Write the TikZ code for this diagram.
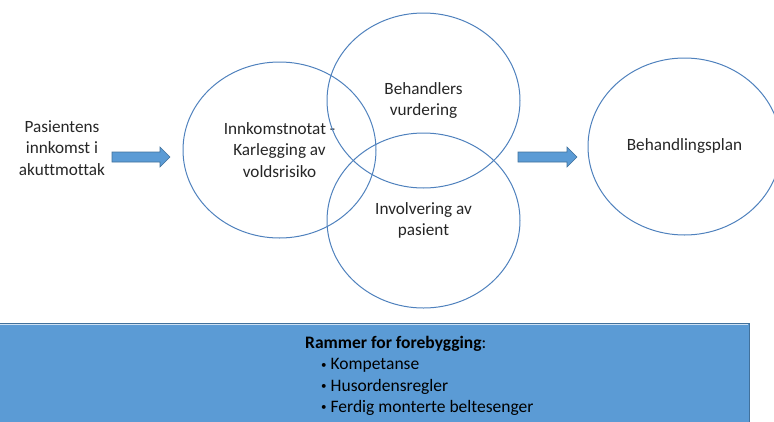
\documentclass[tikz,border=0pt]{standalone}
\usepackage{fontspec}
\setmainfont[Ligatures={NoCommon}]{Carlito}
\usetikzlibrary{shapes.geometric}
\definecolor{ringc}{HTML}{4F81BD}
\definecolor{fillb}{HTML}{5B9BD5}
\definecolor{edgeb}{HTML}{41719C}
\definecolor{txt}{HTML}{262626}
\tikzset{
  ring/.style={draw=ringc, line width=1pt, ellipse, inner sep=0pt, align=center, text=txt,
    font=\fontsize{17.2}{21.5}\selectfont},
  lbl/.style={align=center, text=txt, font=\fontsize{17.2}{21.5}\selectfont},
  boxtxt/.style={anchor=base west, text=black, inner sep=0pt, font=\fontsize{17.5}{20}\selectfont},
  blockarrow/.style={fill=fillb, draw=edgeb, line width=0.6pt},
}
\newcommand{\smbul}{\raisebox{0.15ex}{\fontsize{11}{11}\selectfont\textbullet}\hspace{4pt}}
\begin{document}
\begin{tikzpicture}[x=1pt,y=-1pt]
\useasboundingbox (0,0) rectangle (774,421);
% ellipses
\node[ring, minimum width=193, minimum height=176] (left) at (279.5,150) {Innkomstnotat -\\Karlegging av\\voldsrisiko};
\node[ring, minimum width=193, minimum height=175] (top) at (423.5,100.5) {Behandlers\\vurdering};
\node[ring, minimum width=193, minimum height=175] (bot) at (423.5,220.5) {Involvering av\\pasient};
\node[ring, minimum width=193, minimum height=177] (plan) at (684.5,146.5) {Behandlingsplan};
% left text
\node[lbl] (pas) at (62,148) {Pasientens\\innkomst i\\akuttmottak};
% arrows
\draw[blockarrow] (112,152) -- (160,152) -- (160,147) -- (170,157) -- (160,167) -- (160,162) -- (112,162) -- cycle;
\draw[blockarrow] (518,152) -- (567,152) -- (567,147) -- (577,157) -- (567,167) -- (567,162) -- (518,162) -- cycle;
% bottom box
\fill[fillb] (0,323) rectangle (749,425);
\draw[edgeb, line width=0.8pt] (0,323.5) -- (749,323.5) -- (749,425);
\draw[white!70!fillb, line width=0.6pt] (0,324.6) -- (748,324.6);
\node[boxtxt] (head) at (305,348) {\textbf{Rammer for forebygging}:};
\node[boxtxt] (b1) at (321,369.5) {\smbul Kompetanse};
\node[boxtxt] (b2) at (321,391) {\smbul Husordensregler};
\node[boxtxt] (b3) at (321,412) {\smbul Ferdig monterte beltesenger};
\end{tikzpicture}
\end{document}
